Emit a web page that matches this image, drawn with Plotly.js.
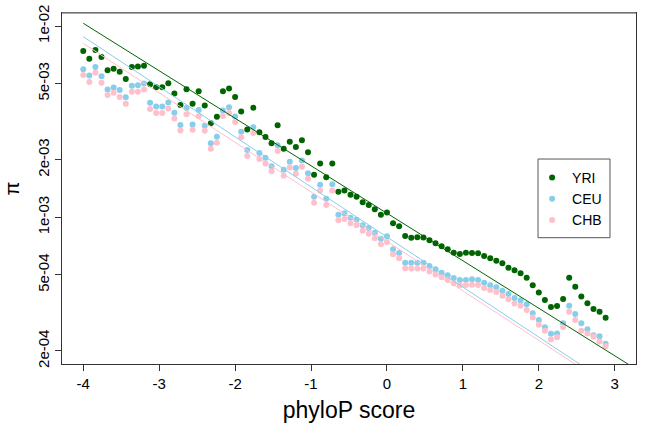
<!DOCTYPE html>
<html>
<head>
<meta charset="utf-8">
<script src="https://cdn.plot.ly/plotly-3.0.1.min.js"></script>
<style>
  html, body { margin: 0; padding: 0; background: #fff; }
  #viz { width: 645px; height: 430px; }
</style>
</head>
<body>
<div id="viz"></div>
<script>
// phyloP bins (x) and nucleotide diversity per population (y)
const phylop = [-4, -3.92, -3.84, -3.76, -3.68, -3.6, -3.52, -3.44, -3.36, -3.28,
  -3.2, -3.12, -3.04, -2.96, -2.88, -2.8, -2.72, -2.64, -2.56, -2.48,
  -2.4, -2.32, -2.24, -2.16, -2.08, -2, -1.92, -1.84, -1.76, -1.68,
  -1.6, -1.52, -1.44, -1.36, -1.28, -1.2, -1.12, -1.04, -0.96, -0.88,
  -0.8, -0.72, -0.64, -0.56, -0.48, -0.4, -0.32, -0.24, -0.16, -0.08,
  0, 0.08, 0.16, 0.24, 0.32, 0.4, 0.48, 0.56, 0.64, 0.72,
  0.8, 0.88, 0.96, 1.04, 1.12, 1.2, 1.28, 1.36, 1.44, 1.52,
  1.6, 1.68, 1.76, 1.84, 1.92, 2, 2.08, 2.16, 2.24, 2.32,
  2.4, 2.48, 2.56, 2.64, 2.72, 2.8, 2.88];

const yri = [7.40e-3, 6.75e-3, 7.49e-3, 6.89e-3, 5.87e-3, 5.98e-3, 5.77e-3, 5.28e-3, 6.10e-3, 6.14e-3,
  6.20e-3, 4.96e-3, 4.79e-3, 4.79e-3, 5.02e-3, 4.44e-3, 3.86e-3, 4.67e-3, 3.92e-3, 4.56e-3,
  3.84e-3, 3.10e-3, 3.35e-3, 4.56e-3, 4.71e-3, 4.25e-3, 3.57e-3, 2.88e-3, 3.74e-3, 2.78e-3,
  2.63e-3, 2.44e-3, 3.03e-3, 2.28e-3, 2.48e-3, 2.33e-3, 2.53e-3, 2.19e-3, 1.67e-3, 1.91e-3,
  1.62e-3, 1.91e-3, 1.36e-3, 1.38e-3, 1.31e-3, 1.28e-3, 1.20e-3, 1.16e-3, 1.10e-3, 1.03e-3,
  1.06e-3, 9.30e-4, 8.97e-4, 7.98e-4, 7.81e-4, 7.87e-4, 7.84e-4, 7.58e-4, 7.31e-4, 7.06e-4,
  6.80e-4, 6.53e-4, 6.43e-4, 6.53e-4, 6.51e-4, 6.49e-4, 6.28e-4, 6.10e-4, 5.93e-4, 5.75e-4,
  5.45e-4, 5.28e-4, 5.10e-4, 4.83e-4, 4.41e-4, 4.04e-4, 3.70e-4, 3.40e-4, 3.44e-4, 3.74e-4,
  4.83e-4, 4.34e-4, 3.85e-4, 3.55e-4, 3.32e-4, 3.21e-4, 2.98e-4];

const ceu = [5.94e-3, 5.51e-3, 6.10e-3, 5.46e-3, 4.65e-3, 4.77e-3, 4.63e-3, 4.24e-3, 4.87e-3, 4.90e-3,
  5.00e-3, 3.97e-3, 3.80e-3, 3.80e-3, 3.98e-3, 3.52e-3, 3.04e-3, 3.73e-3, 3.06e-3, 3.64e-3,
  3.01e-3, 2.44e-3, 2.64e-3, 3.62e-3, 3.76e-3, 3.36e-3, 2.80e-3, 2.25e-3, 2.96e-3, 2.17e-3,
  2.05e-3, 1.85e-3, 2.38e-3, 1.77e-3, 1.95e-3, 1.81e-3, 1.98e-3, 1.70e-3, 1.28e-3, 1.48e-3,
  1.25e-3, 1.49e-3, 1.03e-3, 1.05e-3, 9.95e-4, 9.72e-4, 9.08e-4, 8.79e-4, 8.31e-4, 7.73e-4,
  7.96e-4, 6.80e-4, 6.51e-4, 5.79e-4, 5.78e-4, 5.78e-4, 5.78e-4, 5.56e-4, 5.35e-4, 5.13e-4,
  4.97e-4, 4.82e-4, 4.70e-4, 4.70e-4, 4.74e-4, 4.70e-4, 4.55e-4, 4.41e-4, 4.31e-4, 4.13e-4,
  3.97e-4, 3.78e-4, 3.67e-4, 3.51e-4, 3.15e-4, 2.90e-4, 2.66e-4, 2.46e-4, 2.47e-4, 2.79e-4,
  3.45e-4, 3.12e-4, 2.79e-4, 2.60e-4, 2.42e-4, 2.39e-4, 2.18e-4];

const chb = [5.54e-3, 5.10e-3, 5.70e-3, 5.05e-3, 4.36e-3, 4.48e-3, 4.25e-3, 3.92e-3, 4.53e-3, 4.53e-3,
  4.65e-3, 3.68e-3, 3.51e-3, 3.51e-3, 3.70e-3, 3.28e-3, 2.84e-3, 3.46e-3, 2.87e-3, 3.37e-3,
  2.83e-3, 2.28e-3, 2.45e-3, 3.38e-3, 3.51e-3, 3.15e-3, 2.62e-3, 2.09e-3, 2.76e-3, 2.02e-3,
  1.91e-3, 1.74e-3, 2.22e-3, 1.65e-3, 1.82e-3, 1.69e-3, 1.84e-3, 1.59e-3, 1.19e-3, 1.38e-3,
  1.16e-3, 1.38e-3, 9.64e-4, 9.80e-4, 9.30e-4, 9.08e-4, 8.51e-4, 8.21e-4, 7.77e-4, 7.22e-4,
  7.43e-4, 6.40e-4, 6.10e-4, 5.41e-4, 5.40e-4, 5.40e-4, 5.40e-4, 5.21e-4, 5.02e-4, 4.86e-4,
  4.70e-4, 4.52e-4, 4.41e-4, 4.42e-4, 4.44e-4, 4.42e-4, 4.27e-4, 4.17e-4, 4.07e-4, 3.89e-4,
  3.73e-4, 3.54e-4, 3.45e-4, 3.28e-4, 2.99e-4, 2.74e-4, 2.55e-4, 2.30e-4, 2.36e-4, 2.66e-4,
  3.21e-4, 2.90e-4, 2.55e-4, 2.47e-4, 2.38e-4, 2.24e-4, 2.12e-4];

const populations = ['YRI', 'CEU', 'CHB'];
const popColors = ['darkgreen', 'skyblue', 'pink'];

// fitted lines: log10(pi) = intercept + slope * phyloP
const fitIntercept = [-2.979, -3.103, -3.126];
const fitSlope = [-0.2483, -0.2618, -0.2588];
const fitFrom = [-4, 3.3];

const xTicks = [-4, -3, -2, -1, 0, 1, 2, 3];
const xTickText = ['-4', '-3', '-2', '-1', '0', '1', '2', '3'];
const yTicks = [2e-4, 5e-4, 1e-3, 2e-3, 5e-3, 1e-2];
const yTickText = ['2e-04', '5e-04', '1e-03', '2e-03', '5e-03', '1e-02'];

const series = [yri, ceu, chb];

const data = [];
series.forEach((vals, i) => {
  data.push({
    x: phylop,
    y: vals,
    type: 'scatter',
    mode: 'markers',
    name: populations[i],
    marker: { color: popColors[i], size: 6 },
    cliponaxis: false
  });
});
series.forEach((vals, i) => {
  data.push({
    x: fitFrom,
    y: fitFrom.map(x => Math.pow(10, fitIntercept[i] + fitSlope[i] * x)),
    type: 'scatter',
    mode: 'lines',
    showlegend: false,
    hoverinfo: 'skip',
    line: { color: popColors[i], width: 1 }
  });
});

const layout = {
  width: 645,
  height: 430,
  margin: { l: 62, r: 9, t: 13, b: 66 },
  paper_bgcolor: '#fff',
  plot_bgcolor: '#fff',
  font: { family: 'Liberation Sans, Arial, sans-serif', color: '#000', size: 15 },
  showlegend: true,
  legend: {
    x: 0.819, y: 0.5755, xanchor: 'left', yanchor: 'top',
    bgcolor: 'rgba(0,0,0,0)', borderwidth: 0,
    font: { size: 14 }
  },
  xaxis: {
    range: [-4.28, 3.28],
    tickvals: xTicks, ticktext: xTickText,
    ticks: 'outside', ticklen: 6, tickcolor: '#333',
    showline: true, linecolor: '#333', linewidth: 1, mirror: true,
    showgrid: false, zeroline: false,
    tickfont: { size: 15 },
    title: { text: 'phyloP score', font: { size: 23 }, standoff: 10 }
  },
  yaxis: {
    type: 'log',
    range: [-3.767, -1.932],
    tickvals: yTicks, ticktext: yTickText,
    tickangle: -90,
    ticks: 'outside', ticklen: 6, tickcolor: '#333',
    showline: true, linecolor: '#333', linewidth: 1, mirror: true,
    showgrid: false, zeroline: false,
    tickfont: { size: 15 },
    title: { text: 'π', font: { size: 20 }, standoff: 10 }
  },
  shapes: [
    // grey top edge of the box, as in the original
    { type: 'line', xref: 'paper', yref: 'paper', x0: 0, x1: 1, y0: 1, y1: 1,
      line: { color: '#888', width: 1.5 } },
    // legend frame
    { type: 'rect', xref: 'paper', yref: 'paper', x0: 0.8293, x1: 0.9547, y0: 0.3598, y1: 0.584,
      line: { color: '#555', width: 1 }, fillcolor: 'rgba(0,0,0,0)' }
  ]
};

Plotly.newPlot('viz', data, layout, { displayModeBar: false, staticPlot: true });
</script>
</body>
</html>
